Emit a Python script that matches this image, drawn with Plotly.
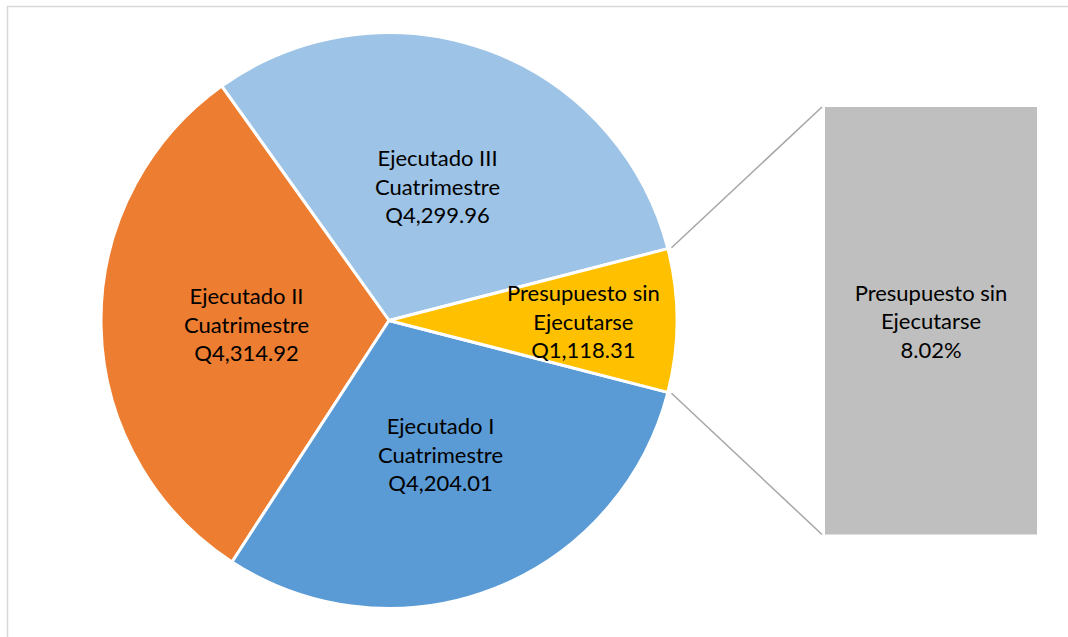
import math
import plotly.graph_objects as go

# ---- data ----
slice_names = ["Ejecutado III Cuatrimestre", "Ejecutado II Cuatrimestre",
               "Ejecutado I Cuatrimestre", "Presupuesto sin Ejecutarse"]
label_line1 = ["Ejecutado III", "Ejecutado II", "Ejecutado I", "Presupuesto sin"]
label_line2 = ["Cuatrimestre", "Cuatrimestre", "Cuatrimestre", "Ejecutarse"]
values = [4299.96, 4314.92, 4204.01, 1118.31]
split_index = 3

# ---- style / layout ----
colors = ["#9DC3E6", "#ED7D31", "#5B9BD5", "#FFC000"]
label_radius = [0.5, 0.5, 0.5, 0.68]
W, H = 1068, 637
cx, cy, R = 389, 320.5, 286
R_dom = R + 2
bar_px = (825, 107, 1037, 534.5)  # left, top, right, bottom
FONT = "Lato"
FS = 22

total = sum(values)
split_frac = values[split_index] / total
split_pct = split_frac * 100
half = 180 * split_frac  # half angle of split slice (deg)
start = half             # first slice begins here (math angle, CCW)

# plotly (counterclockwise) puts the first slice clockwise-adjacent to 'rotation'
rotation = 90 - start - 360 * values[0] / total

fig = go.Figure()

fig.add_trace(go.Pie(
    labels=slice_names, values=values, sort=False,
    direction="counterclockwise", rotation=rotation,
    marker=dict(colors=colors, line=dict(color="white", width=3)),
    textinfo="none", hoverinfo="label+value",
    domain=dict(x=[(cx - R_dom) / W, (cx + R_dom) / W],
                y=[1 - (cy + R_dom) / H, 1 - (cy - R_dom) / H]),
    showlegend=False,
))

# slice labels placed along each slice's mid angle
annotations = []
acc = start
for i, v in enumerate(values):
    if i == split_index:
        mid = 0.0
    else:
        mid = acc + 180 * v / total
    acc += 360 * v / total
    rr = label_radius[i] * R
    px = cx + rr * math.cos(math.radians(mid))
    py = cy - rr * math.sin(math.radians(mid))
    annotations.append(dict(
        x=px / W, y=1 - py / H, xref="paper", yref="paper",
        text=f"{label_line1[i]}<br>{label_line2[i]}<br>Q{v:,.2f}",
        showarrow=False, xanchor="center", yanchor="middle",
        font=dict(family=FONT, size=FS, color="#000000"), align="center",
    ))

# bar of split slice
bl, bt, br, bb = bar_px
fig.add_trace(go.Bar(
    x=[0], y=[split_pct], width=[1], xaxis="x", yaxis="y",
    marker=dict(color="#BFBFBF", line=dict(width=0)),
    text=[f"{label_line1[split_index]}<br>{label_line2[split_index]}<br>{split_pct:.2f}%"],
    textposition="inside", insidetextanchor="middle", textangle=0,
    textfont=dict(family=FONT, size=FS, color="#000000"),
    hoverinfo="skip", showlegend=False,
))

shapes = []
# connector lines from pie edge to bar corners
for sgn, ycorner in [(1, bt), (-1, bb)]:
    a = math.radians(sgn * half)
    x0 = cx + R * 1.02 * math.cos(a)
    y0 = cy - R * 1.02 * math.sin(a)
    shapes.append(dict(type="line", xref="paper", yref="paper",
                       x0=x0 / W, y0=1 - y0 / H, x1=(bl - 3) / W, y1=1 - ycorner / H,
                       line=dict(color="#A6A6A6", width=1.5)))
# chart border
shapes.append(dict(type="rect", xref="paper", yref="paper",
                   x0=7.5 / W, x1=1.05, y0=-0.05, y1=1 - 6.5 / H,
                   line=dict(color="#D9D9D9", width=1.5), fillcolor="rgba(0,0,0,0)"))

fig.update_layout(
    width=W, height=H, margin=dict(l=0, r=0, t=0, b=0),
    paper_bgcolor="white", plot_bgcolor="white",
    xaxis=dict(domain=[bl / W, br / W], range=[-0.5, 0.5], visible=False, fixedrange=True),
    yaxis=dict(domain=[1 - bb / H, 1 - bt / H], range=[0, split_pct], visible=False, fixedrange=True),
    bargap=0, annotations=annotations, shapes=shapes, showlegend=False,
)

fig.write_html("out.html", config={"displayModeBar": False},
               post_script="document.body.style.margin='0';document.body.style.overflow='hidden';")
